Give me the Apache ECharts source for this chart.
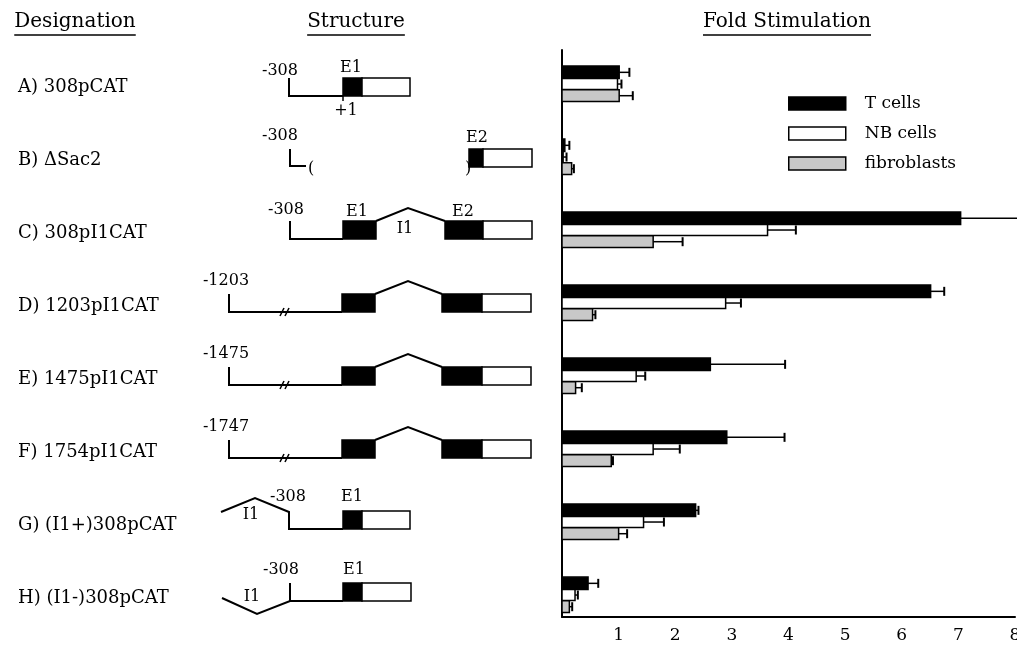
<!DOCTYPE html>
<html>
<head>
<meta charset="utf-8">
<script src="https://cdn.jsdelivr.net/npm/echarts@6/dist/echarts.min.js"></script>
<style>html,body{margin:0;padding:0;background:#fff;overflow:hidden;}#c{width:1017px;height:648px;}</style>
</head>
<body>
<div id="c"></div>
<script>
// ---- data ----
const categories = ['A) 308pCAT','B) \u0394Sac2','C) 308pI1CAT','D) 1203pI1CAT','E) 1475pI1CAT','F) 1754pI1CAT','G) (I1+)308pCAT','H) (I1-)308pCAT'];
const promoterLabels = ['-308','-308','-308','-1203','-1475','-1747','-308','-308'];
const structureTypes = ['E1','dSac2','intron','longIntron','longIntron','longIntron','I1plus','I1minus'];
const seriesNames = ['T cells','NB cells','fibroblasts'];
const tCells  = [1.01, 0.05, 7.04, 6.51, 2.62, 2.91, 2.36, 0.46];
const tSD     = [0.18, 0.08, 1.30, 0.24, 1.32, 1.02, 0.05, 0.18];
const nbCells = [0.98, 0.02, 3.63, 2.89, 1.31, 1.61, 1.44, 0.23];
const nbSD    = [0.07, 0.06, 0.50, 0.27, 0.16, 0.47, 0.36, 0.05];
const fibro   = [1.01, 0.17, 1.61, 0.54, 0.24, 0.87, 1.00, 0.13];
const fibSD   = [0.24, 0.04, 0.52, 0.05, 0.11, 0.03, 0.15, 0.05];
const xTicks  = [0,1,2,3,4,5,6,7,8];
const headers = ['Designation','Structure','Fold Stimulation'];

// ---- styles ----
const FONT = '"DejaVu Serif", "Liberation Serif", serif';
const colors = ['#000000','#ffffff','#c8c8c8'];
const BAR_OFF = [-0.16, 0, 0.16];
const BAR_H = [0.172, 0.15, 0.162];

const chart = echarts.init(document.getElementById('c'), null, {renderer:'canvas'});

function barRender(k){
  return function(params, api){
    const v = api.value(0), e = api.value(1), row = api.value(2);
    const yv = row + BAR_OFF[k];
    const s = api.coord([0, yv]);
    const p = api.coord([v, yv]);
    const q = api.coord([e, yv]);
    const h = api.size([0, BAR_H[k]])[1];
    return {type:'group', children:[
      {type:'line', shape:{x1:p[0], y1:p[1], x2:q[0], y2:q[1]}, style:{stroke:'#000', lineWidth:1.5}},
      {type:'line', shape:{x1:q[0], y1:q[1]-4.5, x2:q[0], y2:q[1]+4.5}, style:{stroke:'#000', lineWidth:2}},
      {type:'rect', shape:{x:s[0], y:s[1]-h/2, width:p[0]-s[0], height:h}, style:{fill:colors[k], stroke:'#000', lineWidth:1.5}}
    ]};
  };
}

function txt(t, x, y, size, align){
  return {type:'text', style:{text:t, x:x, y:y, font: (size||16)+'px '+FONT, fill:'#000', align:align||'center', verticalAlign:'middle'}};
}
function poly(pts, w){
  return {type:'polyline', shape:{points:pts}, style:{stroke:'#000', lineWidth:w||2, fill:null}};
}
function box(x1, x2, y1, y2, fill){
  return {type:'rect', shape:{x:x1, y:y1, width:x2-x1, height:y2-y1}, style:{fill:fill, stroke:'#000', lineWidth:1.5}};
}

function structRender(params, api){
  const row = api.value(1);
  const cy = api.coord([0, row])[1];
  const ch = [];
  ch.push(txt(categories[row], 18, cy+3, 18, 'left'));
  const type = structureTypes[row];
  const pl = promoterLabels[row];
  if (type === 'E1'){
    ch.push(poly([[289,cy-6],[289,cy+12],[343,cy+12]]));
    ch.push(poly([[343,cy+12],[343,cy+17]], 1.5));
    ch.push(box(343,362,cy-6,cy+12,'#000'));
    ch.push(box(362,410,cy-6,cy+12,'#fff'));
    ch.push(txt(pl, 280, cy-13));
    ch.push(txt('E1', 351, cy-16));
    ch.push(txt('+1', 346, cy+27));
  } else if (type === 'dSac2'){
    ch.push(poly([[290,cy-8],[290,cy+9],[306,cy+9]]));
    ch.push(txt('(', 311, cy+12));
    ch.push(txt(')', 468, cy+12));
    ch.push(box(469,483,cy-8,cy+10,'#000'));
    ch.push(box(483,532,cy-8,cy+10,'#fff'));
    ch.push(txt(pl, 280, cy-21));
    ch.push(txt('E2', 477, cy-19));
  } else if (type === 'intron'){
    ch.push(poly([[290,cy-9],[290,cy+9],[343,cy+9]]));
    ch.push(box(343,376,cy-9,cy+9,'#000'));
    ch.push(poly([[376,cy-9],[408,cy-22],[445,cy-9]]));
    ch.push(box(445,483,cy-9,cy+9,'#000'));
    ch.push(box(483,532,cy-9,cy+9,'#fff'));
    ch.push(txt(pl, 286, cy-20));
    ch.push(txt('E1', 357, cy-18));
    ch.push(txt('I1', 405, cy-1));
    ch.push(txt('E2', 463, cy-18));
  } else if (type === 'longIntron'){
    ch.push(poly([[229,cy-9],[229,cy+9],[342,cy+9]]));
    ch.push(poly([[280,cy+13],[284,cy+5]], 1.5));
    ch.push(poly([[285,cy+13],[289,cy+5]], 1.5));
    ch.push(box(342,375,cy-9,cy+9,'#000'));
    ch.push(poly([[375,cy-9],[408,cy-22],[442,cy-9]]));
    ch.push(box(442,482,cy-9,cy+9,'#000'));
    ch.push(box(482,531,cy-9,cy+9,'#fff'));
    ch.push(txt(pl, 226, cy-22));
  } else if (type === 'I1plus'){
    ch.push(poly([[221,cy-10],[255,cy-24],[289,cy-10],[289,cy+7],[343,cy+7]]));
    ch.push(box(343,362,cy-11,cy+7,'#000'));
    ch.push(box(362,410,cy-11,cy+7,'#fff'));
    ch.push(txt(pl, 288, cy-25));
    ch.push(txt('E1', 352, cy-25));
    ch.push(txt('I1', 251, cy-7));
  } else if (type === 'I1minus'){
    ch.push(poly([[290,cy-12],[290,cy+6]]));
    ch.push(poly([[222,cy+3],[257,cy+19],[290,cy+6],[343,cy+6]]));
    ch.push(box(343,362,cy-12,cy+6,'#000'));
    ch.push(box(362,411,cy-12,cy+6,'#fff'));
    ch.push(txt(pl, 281, cy-25));
    ch.push(txt('E1', 354, cy-25));
    ch.push(txt('I1', 252, cy+2));
  }
  return {type:'group', children:ch};
}

// header text + underline
const measure = document.createElement('canvas').getContext('2d');
measure.font = '20px ' + FONT;
const headerCenters = [75, 356, 787];
const graphics = [];
headers.forEach((h, i) => {
  const w = measure.measureText(h).width;
  graphics.push({type:'text', left: headerCenters[i]-w/2, top: 12, style:{text:h, font:'20px '+FONT, fill:'#000'}});
  graphics.push({type:'line', shape:{x1:headerCenters[i]-w/2, y1:35, x2:headerCenters[i]+w/2, y2:35}, style:{stroke:'#000', lineWidth:1.5}});
});

const sets = [[tCells,tSD],[nbCells,nbSD],[fibro,fibSD]];
const series = sets.map((s, k) => ({
  name: seriesNames[k],
  type: 'custom',
  renderItem: barRender(k),
  itemStyle: {color: colors[k], borderColor:'#000', borderWidth:1.5},
  encode: {x:[0,1], y:2},
  data: s[0].map((v, i) => [v, v + s[1][i], i]),
  clip: false,
  silent: true
}));
series.push({
  name: 'structure',
  type: 'custom',
  renderItem: structRender,
  encode: {x:0, y:1},
  data: categories.map((c, i) => [0, i]),
  clip: false,
  silent: true
});

chart.setOption({
  animation: false,
  backgroundColor: '#fff',
  grid: {left: 562, right: 2, top: 50, bottom: 31, containLabel: false, outerBoundsMode: 'none'},
  xAxis: {
    type: 'value', min: 0, max: 8, interval: 1,
    axisLine: {show: true, onZero: false, lineStyle: {color:'#000', width: 2}},
    axisTick: {show: false},
    splitLine: {show: false},
    axisLabel: {color:'#000', fontFamily: FONT, fontSize: 17, margin: 10,
      formatter: v => (v === 0 ? '' : String(xTicks[v])), showMaxLabel: true}
  },
  yAxis: {
    type: 'value', inverse: true, min: -0.466, max: 7.301,
    axisLine: {show: true, onZero: false, lineStyle: {color:'#000', width: 2}},
    axisTick: {show: false}, axisLabel: {show: false}, splitLine: {show: false}
  },
  legend: {
    orient: 'vertical', left: 788, top: 95, padding: 0,
    itemWidth: 57, itemHeight: 13, itemGap: 13,
    selectedMode: false,
    textStyle: {fontFamily: FONT, fontSize: 17, color:'#000', padding:[0,0,0,14]},
    data: seriesNames.map((n, k) => ({name: n, icon: 'rect',
      itemStyle: {color: colors[k], borderColor:'#000', borderWidth: 1.5}}))
  },
  graphic: graphics,
  series: series
});
</script>
</body>
</html>
